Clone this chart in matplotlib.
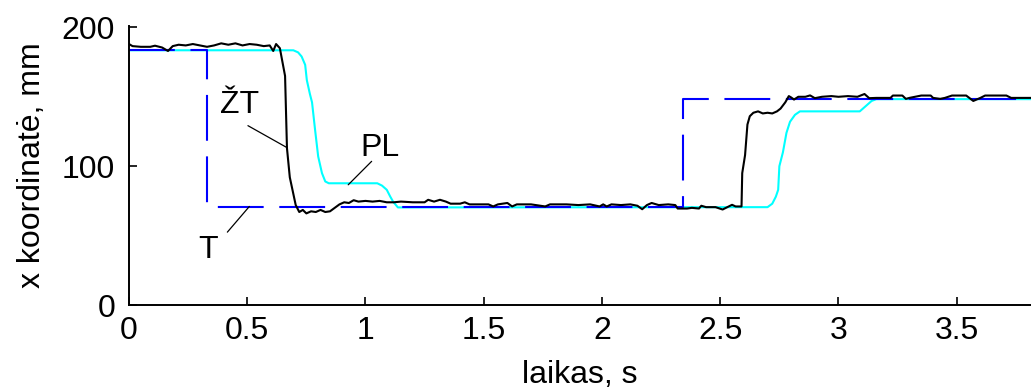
import numpy as np
import matplotlib
matplotlib.use("Agg")
import matplotlib.pyplot as plt

plt.rcParams['font.family'] = ['Liberation Sans', 'DejaVu Sans']

# T - reference trajectory
t_ref = [0.0, 0.332, 0.332, 2.344, 2.344, 3.82]
x_ref = [183.5, 183.5, 70.8, 70.8, 148.7, 148.7]

# ZT - measured (noisy)
t_zt = [0.000, 0.015, 0.050, 0.090, 0.110, 0.140, 0.165, 0.185, 0.210, 0.240,
        0.270, 0.300, 0.330, 0.360, 0.390, 0.420, 0.450, 0.480, 0.510, 0.540,
        0.570, 0.595, 0.610, 0.622, 0.638, 0.660, 0.668, 0.680, 0.690, 0.705,
        0.720, 0.735, 0.750, 0.770, 0.790, 0.810, 0.830, 0.850, 0.870, 0.890,
        0.910, 0.930, 0.950, 0.970, 1.000, 1.030, 1.060, 1.090, 1.120, 1.150,
        1.200, 1.250, 1.265, 1.290, 1.315, 1.340, 1.360, 1.400, 1.420, 1.440,
        1.480, 1.520, 1.540, 1.560, 1.600, 1.620, 1.640, 1.700, 1.760, 1.780,
        1.850, 1.900, 1.950, 1.990, 2.005, 2.020, 2.040, 2.080, 2.120, 2.150,
        2.170, 2.190, 2.210, 2.240, 2.280, 2.310, 2.320, 2.360, 2.380, 2.410,
        2.420, 2.440, 2.480, 2.510, 2.530, 2.550, 2.565, 2.590, 2.593, 2.605,
        2.615, 2.625, 2.640, 2.660, 2.680, 2.700, 2.720, 2.740, 2.755, 2.775,
        2.790, 2.800, 2.812, 2.830, 2.860, 2.880, 2.900, 2.930, 2.970, 3.000,
        3.040, 3.080, 3.110, 3.130, 3.160, 3.220, 3.230, 3.270, 3.285, 3.300,
        3.350, 3.390, 3.400, 3.430, 3.450, 3.480, 3.540, 3.570, 3.600, 3.620,
        3.710, 3.730, 3.820]
x_zt = [188.0, 186.5, 186.0, 186.0, 186.8, 185.5, 183.0, 186.5, 187.5, 187.0,
        188.0, 187.0, 186.0, 187.0, 188.5, 187.5, 188.5, 187.0, 188.0, 187.5,
        186.5, 187.0, 183.0, 188.0, 185.0, 165.0, 113.0, 92.0, 84.0, 72.0,
        67.0, 68.5, 66.0, 67.5, 67.0, 68.5, 67.0, 67.5, 70.0, 72.5,
        74.0, 73.5, 75.5, 74.5, 75.0, 74.5, 75.0, 74.0, 74.0, 74.5,
        74.0, 74.0, 75.8, 74.5, 75.8, 74.5, 73.0, 73.0, 74.0, 72.5,
        72.5, 72.5, 71.0, 72.5, 73.5, 71.0, 72.5, 72.5, 71.0, 72.5,
        72.5, 72.0, 72.5, 71.0, 72.5, 71.0, 72.5, 72.0, 72.5, 71.5,
        69.0, 72.0, 73.5, 72.0, 72.5, 72.0, 69.5, 69.5, 70.0, 69.5,
        71.5, 70.5, 70.5, 68.8, 70.5, 72.2, 71.0, 71.0, 95.0, 108.0,
        130.0, 136.0, 138.5, 139.5, 138.0, 138.5, 138.0, 139.5, 141.5, 146.0,
        150.5, 149.5, 148.0, 150.0, 150.0, 151.0, 149.0, 150.0, 150.5, 150.0,
        150.5, 150.0, 152.0, 149.0, 149.2, 149.2, 150.9, 150.9, 148.5, 149.2,
        150.9, 150.9, 149.2, 148.5, 149.2, 150.9, 150.9, 147.0, 149.2, 150.9,
        150.9, 149.2, 149.2]

# PL
t_pl = [0.000, 0.695, 0.715, 0.730, 0.745, 0.752, 0.765, 0.774, 0.787, 0.800,
        0.816, 0.830, 0.845, 1.050, 1.070, 1.090, 1.105, 1.117, 1.137, 2.700,
        2.720, 2.735, 2.745, 2.750, 2.765, 2.780, 2.795, 2.816, 2.837, 3.090,
        3.140, 3.160, 3.820]
x_pl = [183.5, 183.5, 182.0, 179.0, 173.0, 162.0, 152.0, 146.0, 126.0, 107.0,
        95.0, 89.0, 87.7, 87.7, 86.0, 83.0, 78.0, 74.4, 70.3, 70.5,
        73.0, 78.0, 83.0, 100.0, 110.0, 124.0, 132.0, 137.0, 139.5, 139.5,
        147.0, 148.3, 148.3]

fs = 23

fig = plt.figure(figsize=(10.31, 3.92), dpi=100)
ax = fig.add_axes([0.1251, 0.2219, 0.8749, 0.7118])

ax.plot(t_pl, x_pl, color='#00ffff', linewidth=1.5)
ax.plot(t_ref, x_ref, color='#0000ff', linewidth=1.5, dashes=(22, 7.5))
ax.plot(t_zt, x_zt, color='black', linewidth=1.5)

# labels with leader lines
ax.text(0.467, 138.6, 'ŽT', fontsize=fs, ha='center', va='baseline')
ax.annotate('', xy=(0.668, 113.4), xytext=(0.503, 129.2),
            arrowprops=dict(arrowstyle='-', color='black', lw=0.9,
                            shrinkA=0, shrinkB=0))
ax.text(1.061, 107.6, 'PL', fontsize=fs, ha='center', va='baseline')
ax.annotate('', xy=(0.927, 86.6), xytext=(1.026, 103.5),
            arrowprops=dict(arrowstyle='-', color='black', lw=0.9,
                            shrinkA=0, shrinkB=0))
ax.text(0.334, 33.9, 'T', fontsize=fs, ha='center', va='baseline')
ax.annotate('', xy=(0.509, 71.0), xytext=(0.416, 52.5),
            arrowprops=dict(arrowstyle='-', color='black', lw=0.9,
                            shrinkA=0, shrinkB=0))

ax.set_xlim(0, 3.814)
ax.set_ylim(0, 201)
ax.set_xticks(np.arange(0, 3.6, 0.5))
ax.set_xticklabels(['0', '0.5', '1', '1.5', '2', '2.5', '3', '3.5'])
ax.set_yticks([0, 100, 200])

for s in ['top', 'right']:
    ax.spines[s].set_visible(False)
for s in ['left', 'bottom']:
    ax.spines[s].set_linewidth(1.4)

ax.tick_params(axis='both', direction='in', length=6, width=1.2,
               labelsize=fs, colors='black')
ax.tick_params(axis='x', pad=8)
ax.tick_params(axis='y', pad=10)

ax.set_xlabel('laikas, s', fontsize=fs)
ax.set_ylabel('x koordinatė, mm', fontsize=fs)
ax.xaxis.set_label_coords(0.5, -0.197)
ax.yaxis.set_label_coords(-0.091, 0.5)

fig.savefig('out.png', dpi=100)
